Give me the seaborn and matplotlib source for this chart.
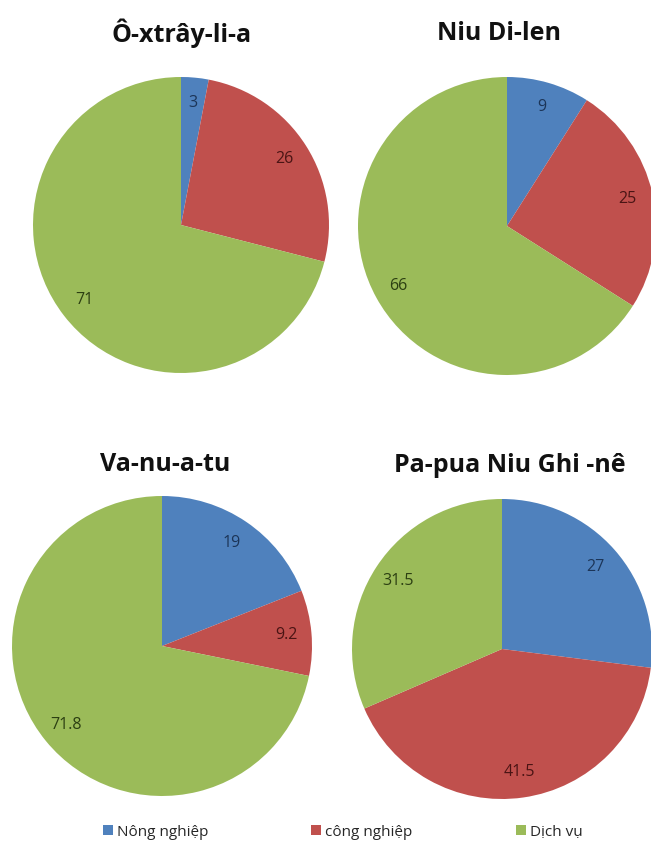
import matplotlib
matplotlib.use("Agg")
import matplotlib.pyplot as plt
from matplotlib.patches import Patch
import seaborn as sns

# data
countries = ["Ô-xtrây-li-a", "Niu Di-len", "Va-nu-a-tu", "Pa-pua Niu Ghi -nê"]
sectors = ["Nông nghiệp", "công nghiệp", "Dịch vụ"]
nong_nghiep = [3, 9, 19, 27]
cong_nghiep = [26, 25, 9.2, 41.5]
dich_vu = [71, 66, 71.8, 31.5]

sns.set_theme(style="white")
plt.rcParams["font.family"] = ["Open Sans", "DejaVu Sans"]

colors = sns.color_palette(["#4F81BD", "#C0504D", "#9BBB59"])
label_colors = ["#1c3558", "#4a1414", "#2c3f12"]

W, H = 651, 844
fig = plt.figure(figsize=(W / 100, H / 100), dpi=100)
fig.patch.set_facecolor("white")

# pie centre (px) and radius (px), title centre x / baseline y (px)
boxes = [(181, 225, 148), (507, 226, 149), (162, 646, 150), (502, 649, 150)]
titles_xy = [(182, 42), (499, 40), (165, 471), (510, 472)]

for i, name in enumerate(countries):
    cx, cy, r = boxes[i]
    ax = fig.add_axes([(cx - r) / W, 1 - (cy + r) / H, 2 * r / W, 2 * r / H])
    vals = [nong_nghiep[i], cong_nghiep[i], dich_vu[i]]
    labs = [f"{v:g}" for v in vals]
    wedges, texts = ax.pie(vals, colors=colors, startangle=90, counterclock=False,
                           labels=labs, labeldistance=0.83,
                           wedgeprops=dict(linewidth=0))
    for t, c in zip(texts, label_colors):
        t.set_ha("center")
        t.set_va("center")
        t.set_fontsize(11.5)
        t.set_color(c)
    ax.set_xlim(-1, 1)
    ax.set_ylim(-1, 1)
    ax.set_aspect("equal")
    ax.axis("off")
    tx, ty = titles_xy[i]
    fig.text(tx / W, 1 - ty / H, name, ha="center", va="baseline",
             fontsize=18, fontweight="bold", color="#111111")

# legend entries
leg_x = [103, 311, 516]
for x, lab, c in zip(leg_x, sectors, colors):
    fig.legend(handles=[Patch(facecolor=c, edgecolor="none")], labels=[lab],
               loc="center left", bbox_to_anchor=(x / W, 1 - 832 / H),
               frameon=False, fontsize=11, handlelength=0.65, handleheight=0.65,
               handletextpad=0.25, borderpad=0, borderaxespad=0)

fig.savefig("out.png", dpi=100, facecolor="white")
